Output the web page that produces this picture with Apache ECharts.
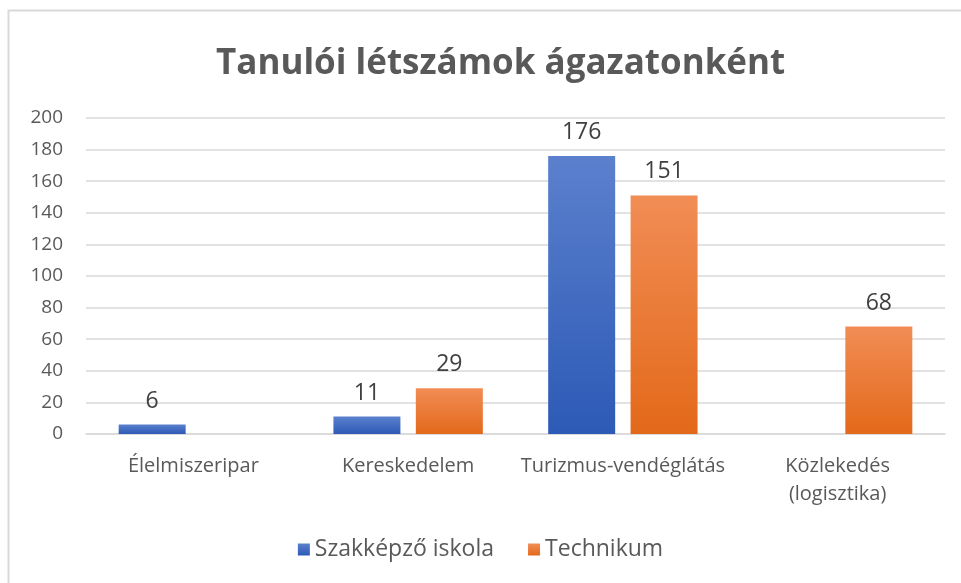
<!DOCTYPE html>
<html>
<head>
<meta charset="utf-8">
<script src="https://cdn.jsdelivr.net/npm/echarts@6/dist/echarts.min.js"></script>
<style>
html, body { margin: 0; padding: 0; background: #fff; }
#chart { width: 961px; height: 583px; }
</style>
</head>
<body>
<div id="chart"></div>
<script>
var categories = ['Élelmiszeripar', 'Kereskedelem', 'Turizmus-vendéglátás', 'Közlekedés\n(logisztika)'];
var szakkepzo = [6, 11, 176, null];
var technikum = [null, 29, 151, 68];
var seriesNames = ['Szakképző iskola', 'Technikum'];

var font = '"Open Sans", "Noto Sans", sans-serif';

function grad(top, bottom) {
    return new echarts.graphic.LinearGradient(0, 0, 0, 1, [
        { offset: 0, color: top },
        { offset: 1, color: bottom }
    ]);
}

var myChart = echarts.init(document.getElementById('chart'));
var option = {
    animation: false,
    backgroundColor: '#fff',
    title: {
        text: 'Tanulói létszámok ágazatonként',
        left: 211,
        top: 42,
        textStyle: {
            fontFamily: font,
            fontSize: 35,
            fontWeight: 'bold',
            color: '#595959'
        }
    },
    graphic: [{
        type: 'rect',
        shape: { x: 8.5, y: 10.5, width: 1000, height: 1000 },
        style: { fill: 'none', stroke: '#d9d9d9', lineWidth: 2 },
        silent: true
    }],
    legend: {
        bottom: 17,
        left: 'center',
        itemWidth: 12,
        itemHeight: 12,
        itemGap: 34,
        icon: 'rect',
        textStyle: { fontFamily: font, fontSize: 23, color: '#595959' },
        data: seriesNames
    },
    grid: { left: 86, right: 16, top: 118, bottom: 149 },
    xAxis: {
        type: 'category',
        data: categories,
        axisLine: { lineStyle: { color: '#d9d9d9', width: 1.5 } },
        axisTick: { show: false },
        axisLabel: {
            fontFamily: font,
            fontSize: 20,
            color: '#595959',
            margin: 18,
            lineHeight: 28,
            interval: 0
        }
    },
    yAxis: {
        type: 'value',
        min: 0,
        max: 200,
        interval: 20,
        axisLine: { show: false },
        axisTick: { show: false },
        splitLine: { lineStyle: { color: '#d9d9d9', width: 1.5 } },
        axisLabel: { fontFamily: font, fontSize: 19, color: '#595959', margin: 23 }
    },
    series: [{
        name: seriesNames[0],
        type: 'bar',
        data: szakkepzo,
        barWidth: 67,
        barGap: '23%',
        itemStyle: { color: grad('#5b80cd', '#2d5ab6') },
        label: {
            show: true, position: 'top', distance: 12,
            fontFamily: font, fontSize: 23, color: '#404040'
        }
    }, {
        name: seriesNames[1],
        type: 'bar',
        data: technikum,
        barWidth: 67,
        itemStyle: { color: grad('#f18d55', '#e3691a') },
        label: {
            show: true, position: 'top', distance: 12,
            fontFamily: font, fontSize: 23, color: '#404040'
        }
    }]
};
myChart.setOption(option);
</script>
</body>
</html>
